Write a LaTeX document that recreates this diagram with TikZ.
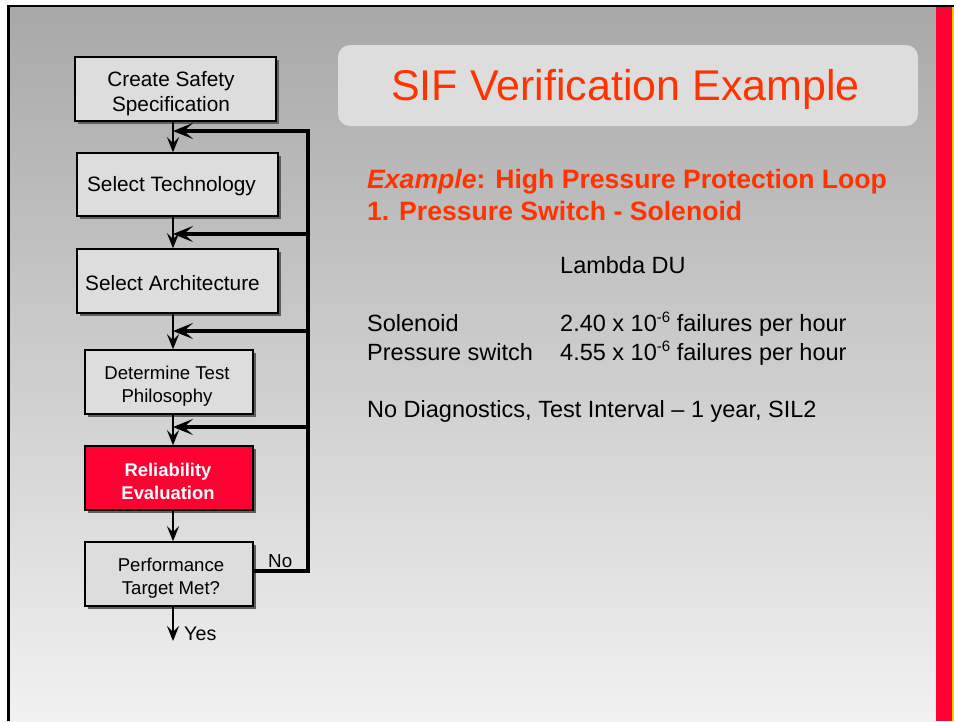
\documentclass[tikz,border=0pt]{standalone}
\usepackage{fontspec}
\setmainfont{Liberation Sans}
\usetikzlibrary{arrows.meta,shadows,positioning,calc}
\definecolor{boxgray}{HTML}{DDDDDD}
\definecolor{shadowgray}{HTML}{5E5E5E}
\definecolor{titlered}{HTML}{FF3300}
\definecolor{barred}{HTML}{FF0033}
\definecolor{baryellow}{HTML}{FFCC00}
\definecolor{bgtop}{HTML}{A8A8A8}
\definecolor{bgbottom}{HTML}{F1F1F1}
\begin{document}
\begin{tikzpicture}[x=1pt,y=-1pt,
  flowbox/.style={draw=black, line width=1.5pt, fill=boxgray, inner sep=0pt,
    drop shadow={shadow xshift=3pt, shadow yshift=-3pt, fill=shadowgray, opacity=1}},
  redbox/.style={flowbox, fill=barred},
  bigtxt/.style={align=center, font=\fontsize{20.8}{25}\selectfont, inner sep=0pt},
  smalltxt/.style={align=center, font=\fontsize{18.6}{23}\selectfont, inner sep=0pt},
  thinarrow/.style={line width=2pt, -{Stealth[length=15pt,width=12pt,inset=6pt]}},
  fbline/.style={line width=3.5pt},
  fbarrow/.style={line width=3.5pt, -{Stealth[length=20pt,width=16pt,inset=9pt]}},
  body/.style={font=\fontsize{23.5}{28}\selectfont, inner sep=0pt, anchor=base west},
  head/.style={font=\fontsize{26.6}{31}\selectfont\bfseries, text=titlered, inner sep=0pt, anchor=base west}
]
\useasboundingbox (0,0) rectangle (954,721);
\fill[white] (0,0) rectangle (954,721);
% slide background
\shade[top color=bgtop, bottom color=bgbottom] (7,5) rectangle (936,721);
\fill[black] (7,4.7) rectangle (954,7.3);
\fill[black] (7,5) rectangle (10,721);
\fill[barred] (935.7,7.3) rectangle (952,721);
\fill[baryellow] (952,7.3) rectangle (954,721);

% title
\node (titlebox) [fill=boxgray, rounded corners=12pt, minimum width=580pt, minimum height=81pt, inner sep=0pt] at (628,85.5) {};
\node (title) [font=\fontsize{43}{50}\selectfont, text=titlered, inner sep=0pt, anchor=base] at (625.5,100) {SIF Verification Example};

% flow boxes
\node (b1) [flowbox, minimum width=201pt, minimum height=64pt] at (175.5,89) {};
\node (b2) [flowbox, minimum width=201pt, minimum height=63pt] at (177.5,184.5) {};
\node (b3) [flowbox, minimum width=201pt, minimum height=64pt] at (177.5,281) {};
\node (b4) [flowbox, minimum width=168pt, minimum height=64pt] at (169,382) {};
\node (b5) [redbox, minimum width=168pt, minimum height=64pt] at (169,478) {};
\node (b6) [flowbox, minimum width=168pt, minimum height=64pt] at (169,574) {};

\node (t1) [bigtxt] at (171,94) {Create Safety\\Specification};
\node (t2) [bigtxt] at (171.5,186) {Select Technology};
\node (t3) [bigtxt] at (172.5,283) {Select Architecture};
\node (t4) [smalltxt] at (167,386) {Determine Test\\Philosophy};
\node (t5) [smalltxt, text=white, font=\fontsize{18.4}{23}\selectfont\bfseries] at (168,481) {Reliability\\Evaluation};
\node (t6) [smalltxt] at (171,578) {Performance\\Target Met?};

% coordinates
\coordinate (ax) at (173,0);
\coordinate (f1) at (308,131);
\coordinate (f2) at (308,234);
\coordinate (f3) at (308,331);
\coordinate (f4) at (308,427);
\coordinate (fno) at (308,571);
\coordinate (yesend) at (173,641);

% vertical arrows
\draw[thinarrow] (b1.south -| ax) -- (b2.north -| ax);
\draw[thinarrow] (b2.south -| ax) -- (b3.north -| ax);
\draw[thinarrow] (b3.south -| ax) -- (b4.north -| ax);
\draw[thinarrow] (b4.south -| ax) -- (b5.north -| ax);
\draw[thinarrow] (b5.south -| ax) -- (b6.north -| ax);
\draw[thinarrow] (b6.south -| ax) -- (yesend);

% feedback loop
\draw[fbline, line join=miter] (b6.east |- fno) -- (fno) -- ($(f1)+(0,-1.75)$);
\draw[fbarrow] ($(f1)+(1.75,0)$) -- (ax |- f1);
\draw[fbarrow] (f2) -- (ax |- f2);
\draw[fbarrow] (f3) -- (ax |- f3);
\draw[fbarrow] (f4) -- (ax |- f4);

\node (no) [font=\fontsize{18.8}{22}\selectfont, inner sep=0pt, anchor=base west] at (268,567) {No};
\node (yes) [font=\fontsize{19.7}{23}\selectfont, inner sep=0pt, anchor=base west] at (184,640) {Yes};

% right text
\node (h1) [head] at (367,188) {\textit{Example}: High Pressure Protection Loop};
\node (h2) [head] at (367,220) {1. Pressure Switch - Solenoid};
\node (lam) [body] at (560,273) {Lambda DU};
\node (sol) [body] at (367,331) {Solenoid};
\node (solv) [body] at (560,331) {2.40 x 10\raisebox{0.38em}{\fontsize{15}{15}\selectfont -6} failures per hour};
\node (ps) [body] at (367,360) {Pressure switch};
\node (psv) [body] at (560,360) {4.55 x 10\raisebox{0.38em}{\fontsize{15}{15}\selectfont -6} failures per hour};
\node (nd) [body] at (367,417) {No Diagnostics, Test Interval – 1 year, SIL2};
\end{tikzpicture}
\end{document}
